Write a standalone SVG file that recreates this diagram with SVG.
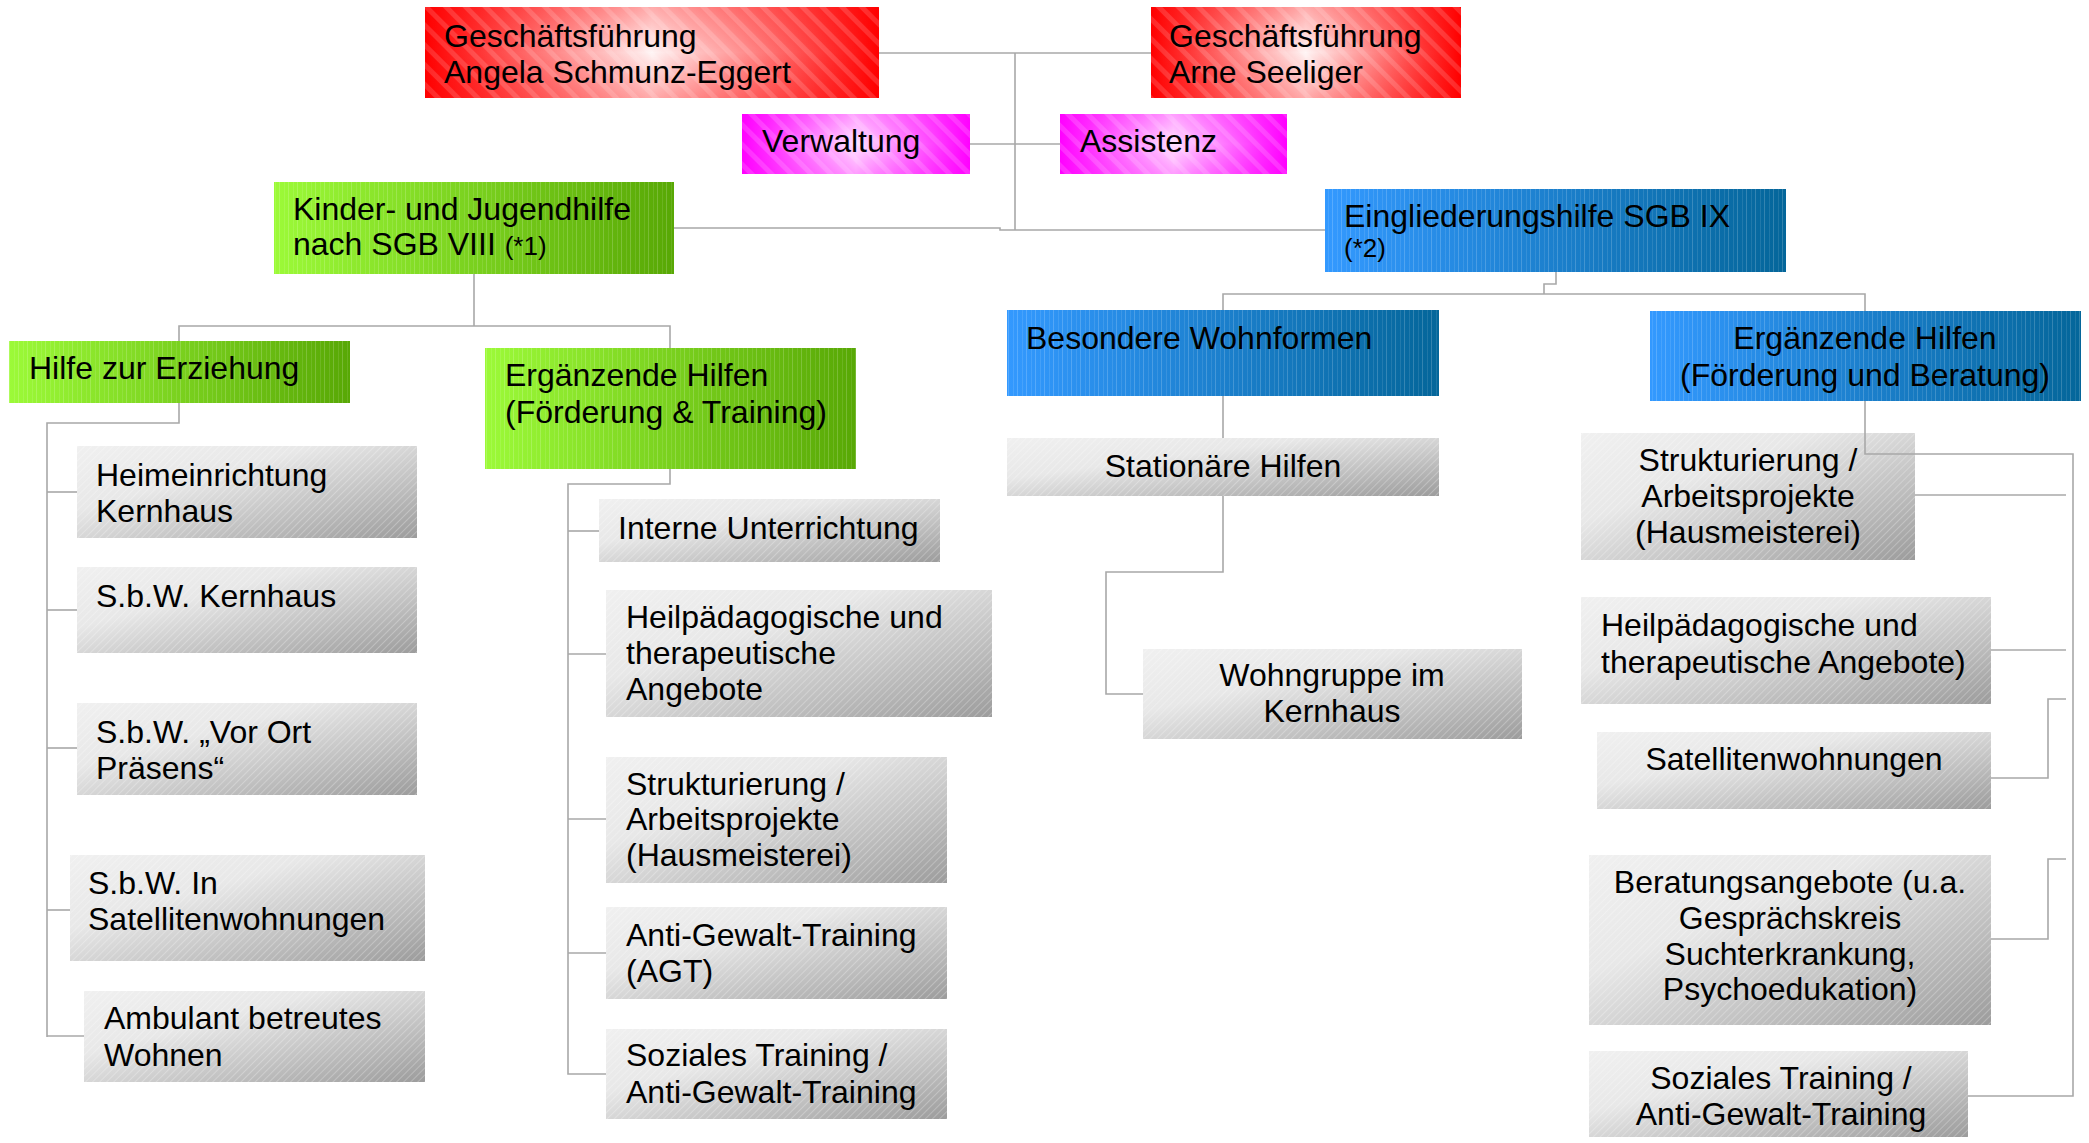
<svg xmlns="http://www.w3.org/2000/svg" width="2089" height="1143" viewBox="0 0 2089 1143">
<style>
.t{font-family:"Liberation Sans",Arial,sans-serif;font-size:32px;fill:#000}
.s{font-size:26px}
.m{text-anchor:middle}
.c{stroke:#a8a8a8;stroke-width:1.6;fill:none}
</style>
<defs>
<linearGradient id="gRed" x1="0" y1="0" x2="1" y2="0">
<stop offset="0" stop-color="#ff0000"/><stop offset="0.12" stop-color="#ff3535"/><stop offset="0.5" stop-color="#fff4f4"/><stop offset="0.88" stop-color="#ff3535"/><stop offset="1" stop-color="#ff0000"/>
</linearGradient>
<linearGradient id="gMag" x1="0" y1="0" x2="1" y2="0">
<stop offset="0" stop-color="#ff00ff"/><stop offset="0.12" stop-color="#ff30ff"/><stop offset="0.5" stop-color="#ffe0ff"/><stop offset="0.88" stop-color="#ff30ff"/><stop offset="1" stop-color="#ff00ff"/>
</linearGradient>
<linearGradient id="gV" x1="0" y1="0" x2="0" y2="1">
<stop offset="0" stop-color="#ff0000" stop-opacity="0.3"/><stop offset="0.5" stop-color="#ff0000" stop-opacity="0"/><stop offset="1" stop-color="#ff0000" stop-opacity="0.3"/>
</linearGradient>
<linearGradient id="gVm" x1="0" y1="0" x2="0" y2="1">
<stop offset="0" stop-color="#ff00ff" stop-opacity="0.3"/><stop offset="0.5" stop-color="#ff00ff" stop-opacity="0"/><stop offset="1" stop-color="#ff00ff" stop-opacity="0.3"/>
</linearGradient>
<linearGradient id="gGreen" x1="0" y1="0" x2="1" y2="0">
<stop offset="0" stop-color="#9cfa38"/><stop offset="1" stop-color="#58a805"/>
</linearGradient>
<linearGradient id="gBlue" x1="0" y1="0" x2="1" y2="0">
<stop offset="0" stop-color="#3399ff"/><stop offset="1" stop-color="#04669a"/>
</linearGradient>
<linearGradient id="gGray" x1="0" y1="0" x2="1" y2="1">
<stop offset="0" stop-color="#f0f0f0"/><stop offset="0.35" stop-color="#e8e8e8"/><stop offset="1" stop-color="#9c9c9c"/>
</linearGradient>
<pattern id="pDiag" width="14" height="14" patternUnits="userSpaceOnUse" patternTransform="rotate(-45)">
<rect x="0" y="0" width="5" height="14" fill="#ffffff" fill-opacity="0.15"/>
</pattern>
<pattern id="pVert" width="9" height="10" patternUnits="userSpaceOnUse">
<rect x="0" y="0" width="1" height="10" fill="#ffffff" fill-opacity="0.18"/>
<rect x="5" y="0" width="1" height="10" fill="#ffffff" fill-opacity="0.1"/>
</pattern>
<pattern id="pHatch" width="5" height="5" patternUnits="userSpaceOnUse" patternTransform="rotate(45)">
<rect x="0" y="0" width="1" height="5" fill="#ffffff" fill-opacity="0.25"/>
</pattern>
</defs>

<g id="gf-angela">
<rect x="425" y="7" width="454" height="91" fill="url(#gRed)"/><rect x="425" y="7" width="454" height="91" fill="url(#gV)"/><rect x="425" y="7" width="454" height="91" fill="url(#pDiag)"/>
<text class="t" x="444" y="47">Geschäftsführung</text><text class="t" x="444" y="83">Angela Schmunz-Eggert</text>
</g>
<g id="gf-arne">
<rect x="1151" y="7" width="310" height="91" fill="url(#gRed)"/><rect x="1151" y="7" width="310" height="91" fill="url(#gV)"/><rect x="1151" y="7" width="310" height="91" fill="url(#pDiag)"/>
<text class="t" x="1169" y="47">Geschäftsführung</text><text class="t" x="1169" y="83">Arne Seeliger</text>
</g>
<g id="verwaltung">
<rect x="742" y="114" width="228" height="60" fill="url(#gMag)"/><rect x="742" y="114" width="228" height="60" fill="url(#gVm)"/><rect x="742" y="114" width="228" height="60" fill="url(#pDiag)"/>
<text class="t" x="762" y="152">Verwaltung</text>
</g>
<g id="assistenz">
<rect x="1060" y="114" width="227" height="60" fill="url(#gMag)"/><rect x="1060" y="114" width="227" height="60" fill="url(#gVm)"/><rect x="1060" y="114" width="227" height="60" fill="url(#pDiag)"/>
<text class="t" x="1080" y="152">Assistenz</text>
</g>
<g id="kinder-jugendhilfe">
<rect x="274" y="182" width="400" height="92" fill="url(#gGreen)"/><rect x="274" y="182" width="400" height="92" fill="url(#pVert)"/>
<text class="t" x="293" y="220">Kinder- und Jugendhilfe</text><text class="t" x="293" y="255">nach SGB VIII <tspan class="s">(*1)</tspan></text>
</g>
<g id="eingliederungshilfe">
<rect x="1325" y="189" width="461" height="83" fill="url(#gBlue)"/><rect x="1325" y="189" width="461" height="83" fill="url(#pVert)"/>
<text class="t" x="1344" y="227">Eingliederungshilfe SGB IX</text><text class="t s" x="1344" y="257">(*2)</text>
</g>
<g id="hilfe-erziehung">
<rect x="9" y="341" width="341" height="62" fill="url(#gGreen)"/><rect x="9" y="341" width="341" height="62" fill="url(#pVert)"/>
<text class="t" x="29" y="379">Hilfe zur Erziehung</text>
</g>
<g id="ergaenzende-foerderung-training">
<rect x="485" y="348" width="371" height="121" fill="url(#gGreen)"/><rect x="485" y="348" width="371" height="121" fill="url(#pVert)"/>
<text class="t" x="505" y="386">Ergänzende Hilfen</text><text class="t" x="505" y="423">(Förderung &amp; Training)</text>
</g>
<g id="heimeinrichtung">
<rect x="77" y="446" width="340" height="92" fill="url(#gGray)"/><rect x="77" y="446" width="340" height="92" fill="url(#pHatch)"/>
<text class="t" x="96" y="486">Heimeinrichtung</text><text class="t" x="96" y="522">Kernhaus</text>
</g>
<g id="sbw-kernhaus">
<rect x="77" y="567" width="340" height="86" fill="url(#gGray)"/><rect x="77" y="567" width="340" height="86" fill="url(#pHatch)"/>
<text class="t" x="96" y="607">S.b.W. Kernhaus</text>
</g>
<g id="sbw-vor-ort">
<rect x="77" y="703" width="340" height="92" fill="url(#gGray)"/><rect x="77" y="703" width="340" height="92" fill="url(#pHatch)"/>
<text class="t" x="96" y="743">S.b.W. „Vor Ort</text><text class="t" x="96" y="779">Präsens“</text>
</g>
<g id="sbw-satelliten">
<rect x="70" y="855" width="355" height="106" fill="url(#gGray)"/><rect x="70" y="855" width="355" height="106" fill="url(#pHatch)"/>
<text class="t" x="88" y="894">S.b.W. In</text><text class="t" x="88" y="930">Satellitenwohnungen</text>
</g>
<g id="ambulant">
<rect x="84" y="991" width="341" height="91" fill="url(#gGray)"/><rect x="84" y="991" width="341" height="91" fill="url(#pHatch)"/>
<text class="t" x="104" y="1029">Ambulant betreutes</text><text class="t" x="104" y="1066">Wohnen</text>
</g>
<g id="interne-unterrichtung">
<rect x="599" y="499" width="341" height="63" fill="url(#gGray)"/><rect x="599" y="499" width="341" height="63" fill="url(#pHatch)"/>
<text class="t" x="618" y="539">Interne Unterrichtung</text>
</g>
<g id="heilpaed-links">
<rect x="606" y="590" width="386" height="127" fill="url(#gGray)"/><rect x="606" y="590" width="386" height="127" fill="url(#pHatch)"/>
<text class="t" x="626" y="628">Heilpädagogische und</text><text class="t" x="626" y="664">therapeutische</text><text class="t" x="626" y="700">Angebote</text>
</g>
<g id="strukturierung-links">
<rect x="606" y="757" width="341" height="126" fill="url(#gGray)"/><rect x="606" y="757" width="341" height="126" fill="url(#pHatch)"/>
<text class="t" x="626" y="795">Strukturierung /</text><text class="t" x="626" y="830">Arbeitsprojekte</text><text class="t" x="626" y="866">(Hausmeisterei)</text>
</g>
<g id="agt">
<rect x="606" y="907" width="341" height="92" fill="url(#gGray)"/><rect x="606" y="907" width="341" height="92" fill="url(#pHatch)"/>
<text class="t" x="626" y="946">Anti-Gewalt-Training</text><text class="t" x="626" y="982">(AGT)</text>
</g>
<g id="soziales-links">
<rect x="606" y="1029" width="341" height="90" fill="url(#gGray)"/><rect x="606" y="1029" width="341" height="90" fill="url(#pHatch)"/>
<text class="t" x="626" y="1066">Soziales Training /</text><text class="t" x="626" y="1103">Anti-Gewalt-Training</text>
</g>
<g id="besondere-wohnformen">
<rect x="1007" y="310" width="432" height="86" fill="url(#gBlue)"/><rect x="1007" y="310" width="432" height="86" fill="url(#pVert)"/>
<text class="t" x="1026" y="349">Besondere Wohnformen</text>
</g>
<g id="stationaere-hilfen">
<rect x="1007" y="438" width="432" height="58" fill="url(#gGray)"/><rect x="1007" y="438" width="432" height="58" fill="url(#pHatch)"/>
<text class="t m" x="1223" y="477">Stationäre Hilfen</text>
</g>
<g id="wohngruppe">
<rect x="1143" y="649" width="379" height="90" fill="url(#gGray)"/><rect x="1143" y="649" width="379" height="90" fill="url(#pHatch)"/>
<text class="t m" x="1332" y="686">Wohngruppe im</text><text class="t m" x="1332" y="722">Kernhaus</text>
</g>
<g id="ergaenzende-foerderung-beratung">
<rect x="1650" y="311" width="431" height="90" fill="url(#gBlue)"/><rect x="1650" y="311" width="431" height="90" fill="url(#pVert)"/>
<text class="t m" x="1865" y="349">Ergänzende Hilfen</text><text class="t m" x="1865" y="386">(Förderung und Beratung)</text>
</g>
<g id="strukturierung-rechts">
<rect x="1581" y="433" width="334" height="127" fill="url(#gGray)"/><rect x="1581" y="433" width="334" height="127" fill="url(#pHatch)"/>
<text class="t m" x="1748" y="471">Strukturierung /</text><text class="t m" x="1748" y="507">Arbeitsprojekte</text><text class="t m" x="1748" y="543">(Hausmeisterei)</text>
</g>
<g id="heilpaed-rechts">
<rect x="1581" y="597" width="410" height="107" fill="url(#gGray)"/><rect x="1581" y="597" width="410" height="107" fill="url(#pHatch)"/>
<text class="t" x="1601" y="636">Heilpädagogische und</text><text class="t" x="1601" y="673">therapeutische Angebote)</text>
</g>
<g id="satellitenwohnungen">
<rect x="1597" y="732" width="394" height="77" fill="url(#gGray)"/><rect x="1597" y="732" width="394" height="77" fill="url(#pHatch)"/>
<text class="t m" x="1794" y="770">Satellitenwohnungen</text>
</g>
<g id="beratungsangebote">
<rect x="1589" y="855" width="402" height="170" fill="url(#gGray)"/><rect x="1589" y="855" width="402" height="170" fill="url(#pHatch)"/>
<text class="t m" x="1790" y="893">Beratungsangebote (u.a.</text><text class="t m" x="1790" y="929">Gesprächskreis</text><text class="t m" x="1790" y="965">Suchterkrankung,</text><text class="t m" x="1790" y="1000">Psychoedukation)</text>
</g>
<g id="soziales-rechts">
<rect x="1589" y="1051" width="379" height="86" fill="url(#gGray)"/><rect x="1589" y="1051" width="379" height="86" fill="url(#pHatch)"/>
<text class="t m" x="1781" y="1089">Soziales Training /</text><text class="t m" x="1781" y="1125">Anti-Gewalt-Training</text>
</g>

<g id="connectors" class="c">
<path d="M879,53 H1151"/>
<path d="M1015,53 V230"/>
<path d="M970,144 H1060"/>
<path d="M674,228 H1000 V230 H1325"/>
<path d="M474,274 V326"/>
<path d="M179,341 V326 H670 V348"/>
<path d="M179,403 V423 H47 V1037"/>
<path d="M47,492 H77"/>
<path d="M47,610 H77"/>
<path d="M47,748 H77"/>
<path d="M47,910 H70"/>
<path d="M47,1036 H84"/>
<path d="M670,469 V484 H568 V1074 H606"/>
<path d="M568,531 H599"/>
<path d="M568,654 H606"/>
<path d="M568,819 H606"/>
<path d="M568,953 H606"/>
<path d="M1556,272 V284 H1544 V294"/>
<path d="M1223,310 V294 H1865 V311"/>
<path d="M1223,396 V438"/>
<path d="M1223,496 V572 H1106 V694 H1143"/>
<path d="M1865,401 V454 H2073 V1096 H1968"/>
<path d="M1915,495 H2066"/>
<path d="M1991,650 H2066"/>
<path d="M1991,778 H2048 V699 H2066"/>
<path d="M1991,939 H2048 V859 H2066"/>
</g>
</svg>
